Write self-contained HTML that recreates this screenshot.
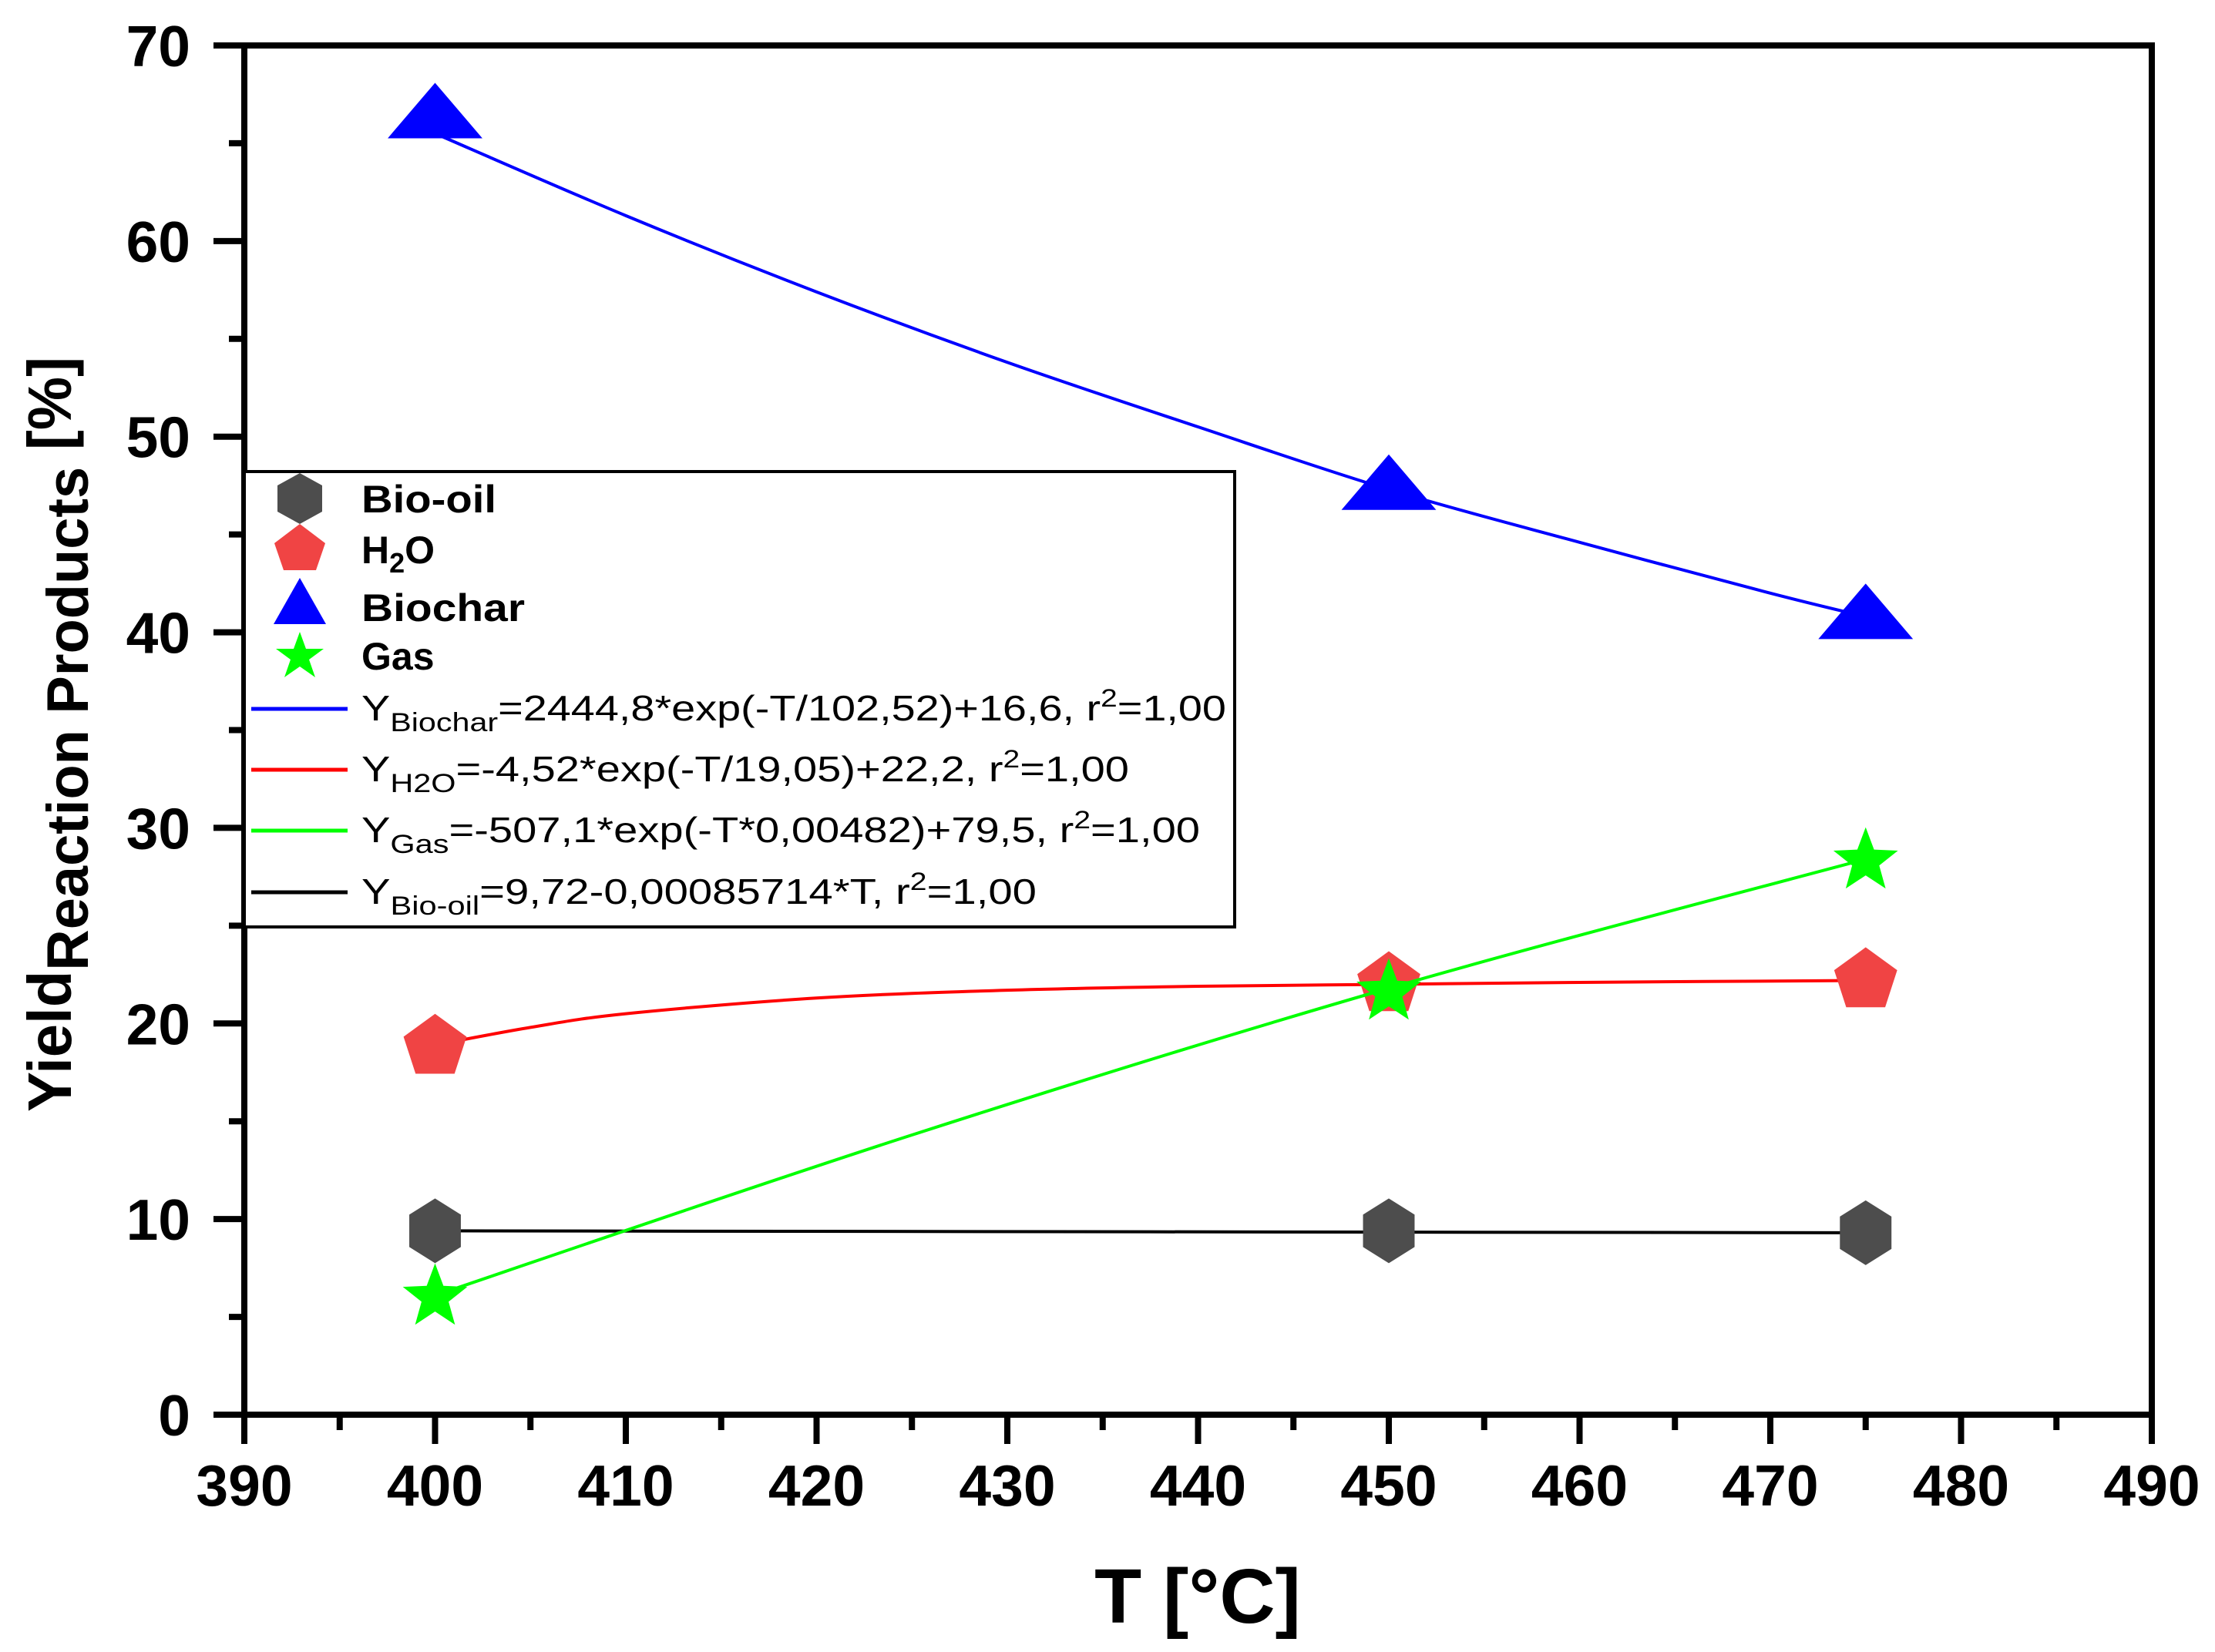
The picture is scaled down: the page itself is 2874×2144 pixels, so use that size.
<!DOCTYPE html>
<html><head><meta charset="utf-8"><style>
html,body{margin:0;padding:0;background:#fff}
svg{display:block;font-family:"Liberation Sans",Arial,sans-serif}
</style></head><body>
<svg id="chart" width="2874" height="2144" viewBox="0 0 2874 2144" xmlns="http://www.w3.org/2000/svg">
<g id="plot"></g>
<g id="axes"></g>
<g id="legend"></g>
</svg>
<script>
const xTicks=[390,400,410,420,430,440,450,460,470,480,490];
const yTicks=[0,10,20,30,40,50,60,70];
const temps=[400,450,475];
const bioOil=[9.4,9.4,9.3];
const h2o=[18.8,22.0,22.2];
const biochar=[66.2,47.2,40.6];
const gas=[6.0,21.6,28.3];
const biocharFitT=[400,410,420,430,440,450,460,470,475];
const biocharFitY=[65.5,61.3,57.4,53.8,50.5,47.3,44.6,42.0,40.8];
const h2oFitT=[400,405,410,420,430,440,450,460,475];
const h2oFitY=[18.9,19.8,20.5,21.3,21.7,21.9,22.0,22.1,22.2];
const gasFitT=[400,425,450,475];
const gasFitY=[6.1,14.3,21.8,28.4];
const oilFitT=[400,475];
const oilFitY=[9.4,9.3];

const L=317,R=2792,T=59,B=1836;
const X=v=>L+(v-390)/100*(R-L);
const Y=v=>B-(v/70)*(B-T);
const NS='http://www.w3.org/2000/svg';
function mk(tag,attrs,parent){const e=document.createElementNS(NS,tag);for(const k in attrs)e.setAttribute(k,attrs[k]);parent.appendChild(e);return e;}
const plot=document.getElementById('plot'),axes=document.getElementById('axes');

function smoothPath(pts){
  let d='M'+pts[0][0]+','+pts[0][1];
  for(let i=0;i<pts.length-1;i++){
    const p0=pts[Math.max(0,i-1)],p1=pts[i],p2=pts[i+1],p3=pts[Math.min(pts.length-1,i+2)];
    const c1x=p1[0]+(p2[0]-p0[0])/6,c1y=p1[1]+(p2[1]-p0[1])/6;
    const c2x=p2[0]-(p3[0]-p1[0])/6,c2y=p2[1]-(p3[1]-p1[1])/6;
    d+=' C'+c1x+','+c1y+' '+c2x+','+c2y+' '+p2[0]+','+p2[1];
  }
  return d;
}
function fitLine(ts,ys,color,name){
  const pts=ts.map((t,i)=>[X(t),Y(ys[i])]);
  const p=mk('path',{d:smoothPath(pts),fill:'none',stroke:color,'stroke-width':4},plot);
  
  
}
function hexPts(cx,cy,r){let s=[];for(let i=0;i<6;i++){const a=Math.PI/2+i*Math.PI/3;s.push((cx+r*0.92*Math.cos(a))+','+(cy-r*Math.sin(a)));}return s.join(' ');}
function pentPts(cx,cy,r){let s=[];for(let i=0;i<5;i++){const a=Math.PI/2+i*2*Math.PI/5;s.push((cx+r*Math.cos(a))+','+(cy-r*Math.sin(a)));}return s.join(' ');}
function triPts(cx,cy,r){return [cx+','+(cy-r*1.0),(cx+r*1.28)+','+(cy+r*0.5),(cx-r*1.28)+','+(cy+r*0.5)].join(' ');}
function starPts(cx,cy,r){let s=[];for(let i=0;i<10;i++){const rr=i%2?r*0.42:r;const a=Math.PI/2+i*Math.PI/5;s.push((cx+rr*Math.cos(a))+','+(cy-rr*Math.sin(a)));}return s.join(' ');}
function marker(kind,cx,cy,r,parent,name){
  let pts,fill;
  if(kind==='hex'){pts=hexPts(cx,cy,r);fill='#4d4d4d';}
  else if(kind==='pent'){pts=pentPts(cx,cy,r);fill='#f04444';}
  else if(kind==='tri'){pts=triPts(cx,cy,r);fill='#0000ff';}
  else {pts=starPts(cx,cy,r);fill='#00ff00';}
  const e=mk('polygon',{points:pts,fill:fill},parent);
  
  
}

fitLine(biocharFitT,biocharFitY,'#0000ff','biochar-fit-line');
fitLine(h2oFitT,h2oFitY,'#ff0000','h2o-fit-line');
fitLine(oilFitT,oilFitY,'#000000','bio-oil-fit-line');
temps.forEach((t,i)=>marker('hex',X(t),Y(bioOil[i]),42,plot,'bio-oil-point'));
temps.forEach((t,i)=>marker('pent',X(t),Y(h2o[i]),43,plot,'h2o-point'));
temps.forEach((t,i)=>marker('tri',X(t),Y(biochar[i]),48,plot,'biochar-point'));
fitLine(gasFitT,gasFitY,'#00ff00','gas-fit-line');
temps.forEach((t,i)=>marker('star',X(t),Y(gas[i]),44,plot,'gas-point'));

const fr=mk('rect',{x:L,y:T,width:R-L,height:B-T,fill:'none',stroke:'#000','stroke-width':8},axes);


xTicks.forEach((v,i)=>{
  const x=X(v);
  const tk=mk('line',{x1:x,y1:B,x2:x,y2:B+38,stroke:'#000','stroke-width':8},axes);
  
  
  if(i<xTicks.length-1){const m=mk('line',{x1:X(v+5),y1:B,x2:X(v+5),y2:B+20,stroke:'#000','stroke-width':8},axes);
    
    }
  const tx=mk('text',{x:x,y:1954,'text-anchor':'middle','font-size':75,'font-weight':'bold'},axes);
  tx.textContent=v;
  
  
});
yTicks.forEach((v,i)=>{
  const y=Y(v);
  const tk=mk('line',{x1:L-40,y1:y,x2:L,y2:y,stroke:'#000','stroke-width':8},axes);
  
  
  if(i<yTicks.length-1){const m=mk('line',{x1:L-20,y1:Y(v+5),x2:L,y2:Y(v+5),stroke:'#000','stroke-width':8},axes);
    
    }
  const tx=mk('text',{x:247,y:y+27,'text-anchor':'end','font-size':75,'font-weight':'bold'},axes);
  tx.textContent=v;
  
  
});
</script>
<svg style="position:absolute;left:0;top:0" width="2874" height="2144" xmlns="http://www.w3.org/2000/svg">
<text x="1554" y="2106" text-anchor="middle" font-size="100" font-weight="bold" font-family="Liberation Sans, sans-serif">T [°C]</text>
<text transform="translate(92,953) rotate(-90)" text-anchor="middle" font-size="80" font-weight="bold" font-family="Liberation Sans, sans-serif" textLength="980" lengthAdjust="spacingAndGlyphs">Yield<tspan dy="22" font-size="76">Reaction Products</tspan><tspan dy="-22"> [%]</tspan></text>
<g font-family="Liberation Sans, sans-serif">
<rect x="317" y="612" width="1285" height="591" fill="#fff" stroke="#000" stroke-width="4"/>
<polygon points="389,614 418,630 418,664 389,680 360,664 360,630" fill="#4d4d4d"/>
<text x="469" y="665" font-size="50" font-weight="bold" textLength="175" lengthAdjust="spacingAndGlyphs">Bio-oil</text>
<polygon points="389,680 422,705 410,740 368,740 356,705" fill="#f04444"/>
<text x="469" y="731" font-size="50" font-weight="bold">H<tspan dy="12" font-size="36">2</tspan><tspan dy="-12">O</tspan></text>
<polygon points="389,750 423,810 355,810" fill="#0000ff"/>
<text x="469" y="806" font-size="50" font-weight="bold" textLength="212" lengthAdjust="spacingAndGlyphs">Biochar</text>
<polygon points="389,820 397,842 420,842 401,856 409,879 389,865 369,879 377,856 358,842 381,842" fill="#00ff00"/>
<text x="469" y="869" font-size="50" font-weight="bold">Gas</text>
<line x1="326" y1="920" x2="451" y2="920" stroke="#0000ff" stroke-width="5"/>
<text x="469" y="935" font-size="46" textLength="1122" lengthAdjust="spacingAndGlyphs">Y<tspan dy="14" font-size="34">Biochar</tspan><tspan dy="-14">=2444,8*exp(-T/102,52)+16,6, r</tspan><tspan dy="-18" font-size="32">2</tspan><tspan dy="18">=1,00</tspan></text>
<line x1="326" y1="999" x2="451" y2="999" stroke="#ff0000" stroke-width="5"/>
<text x="469" y="1014" font-size="46" textLength="996" lengthAdjust="spacingAndGlyphs">Y<tspan dy="14" font-size="34">H2O</tspan><tspan dy="-14">=-4,52*exp(-T/19,05)+22,2, r</tspan><tspan dy="-18" font-size="32">2</tspan><tspan dy="18">=1,00</tspan></text>
<line x1="326" y1="1078" x2="451" y2="1078" stroke="#00ff00" stroke-width="5"/>
<text x="469" y="1093" font-size="46" textLength="1088" lengthAdjust="spacingAndGlyphs">Y<tspan dy="14" font-size="34">Gas</tspan><tspan dy="-14">=-507,1*exp(-T*0,00482)+79,5, r</tspan><tspan dy="-18" font-size="32">2</tspan><tspan dy="18">=1,00</tspan></text>
<line x1="326" y1="1158" x2="451" y2="1158" stroke="#000" stroke-width="5"/>
<text x="469" y="1173" font-size="46" textLength="876" lengthAdjust="spacingAndGlyphs">Y<tspan dy="14" font-size="34">Bio-oil</tspan><tspan dy="-14">=9,72-0,00085714*T, r</tspan><tspan dy="-18" font-size="32">2</tspan><tspan dy="18">=1,00</tspan></text>
</g>
</svg>
</body></html>
